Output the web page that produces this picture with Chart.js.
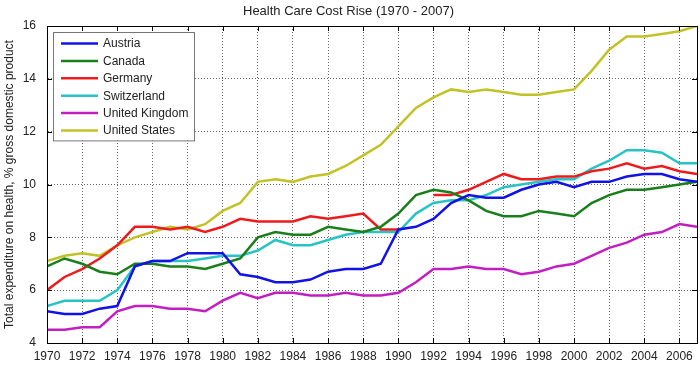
<!DOCTYPE html>
<html lang="en">
<head>
    <meta charset="UTF-8">
    <title>Health Care Cost Rise (1970 - 2007)</title>
    <script src="https://cdn.jsdelivr.net/npm/chart.js"></script>
    <style>
        html, body {
            margin: 0;
            padding: 0;
            background-color: white;
        }

        .chart-container {
            width: 700px;
            height: 366px;
        }
    </style>
</head>
<body>
    <div class="chart-container">
        <canvas id="costChart" width="700" height="366"></canvas>
    </div>

    <script>
        // Data, % of GDP spent on health
        const years = [];
        for (let y = 1970; y <= 2007; y++) years.push(y);

        const austria = [5.2, 5.1, 5.1, 5.3, 5.4, 6.9, 7.1, 7.1, 7.4, 7.4,
                         7.4, 6.6, 6.5, 6.3, 6.3, 6.4, 6.7, 6.8, 6.8, 7.0,
                         8.3, 8.4, 8.7, 9.3, 9.6, 9.5, 9.5, 9.8, 10.0, 10.1,
                         9.9, 10.1, 10.1, 10.3, 10.4, 10.4, 10.2, 10.1];
        const canada = [6.9, 7.2, 7.0, 6.7, 6.6, 7.0, 7.0, 6.9, 6.9, 6.8,
                        7.0, 7.2, 8.0, 8.2, 8.1, 8.1, 8.4, 8.3, 8.2, 8.4,
                        8.9, 9.6, 9.8, 9.7, 9.4, 9.0, 8.8, 8.8, 9.0, 8.9,
                        8.8, 9.3, 9.6, 9.8, 9.8, 9.9, 10.0, 10.1];
        const germany = [6.0, 6.5, 6.8, 7.2, 7.7, 8.4, 8.4, 8.3, 8.4, 8.2,
                         8.4, 8.7, 8.6, 8.6, 8.6, 8.8, 8.7, 8.8, 8.9, 8.3,
                         8.3, null, 9.6, 9.6, 9.8, 10.1, 10.4, 10.2, 10.2, 10.3,
                         10.3, 10.5, 10.6, 10.8, 10.6, 10.7, 10.5, 10.4];
        const switzerland = [5.4, 5.6, 5.6, 5.6, 6.0, 6.9, 7.1, 7.1, 7.1, 7.2,
                             7.3, 7.3, 7.5, 7.9, 7.7, 7.7, 7.9, 8.1, 8.2, 8.2,
                             8.2, 8.9, 9.3, 9.4, 9.4, 9.6, 9.9, 10.0, 10.1, 10.2,
                             10.2, 10.6, 10.9, 11.3, 11.3, 11.2, 10.8, 10.8];
        const unitedKingdom = [4.5, 4.5, 4.6, 4.6, 5.2, 5.4, 5.4, 5.3, 5.3, 5.2,
                               5.6, 5.9, 5.7, 5.9, 5.9, 5.8, 5.8, 5.9, 5.8, 5.8,
                               5.9, 6.3, 6.8, 6.8, 6.9, 6.8, 6.8, 6.6, 6.7, 6.9,
                               7.0, 7.3, 7.6, 7.8, 8.1, 8.2, 8.5, 8.4];
        const unitedStates = [7.1, 7.3, 7.4, 7.3, 7.7, 8.0, 8.2, 8.4, 8.3, 8.5,
                              9.0, 9.3, 10.1, 10.2, 10.1, 10.3, 10.4, 10.7, 11.1, 11.5,
                              12.2, 12.9, 13.3, 13.6, 13.5, 13.6, 13.5, 13.4, 13.4, 13.5,
                              13.6, 14.3, 15.1, 15.6, 15.6, 15.7, 15.8, 16.0];

        const xTicks = [1970, 1972, 1974, 1976, 1978, 1980, 1982, 1984, 1986, 1988,
                        1990, 1992, 1994, 1996, 1998, 2000, 2002, 2004, 2006];
        const yTicks = [4, 6, 8, 10, 12, 14, 16];

        const FONT = 'Liberation Sans, Arial, sans-serif';

        function series(label, values, color) {
            return {
                label: label,
                data: values.map((v, i) => ({ x: years[i], y: v })),
                borderColor: color,
                backgroundColor: color,
                borderWidth: 2.5,
                pointRadius: 0,
                tension: 0,
                spanGaps: false
            };
        }

        // frame with inward tick marks
        const framePlugin = {
            id: 'frame',
            afterDatasetsDraw(chart) {
                const { ctx, chartArea: a, scales } = chart;
                ctx.save();
                ctx.strokeStyle = '#000';
                ctx.lineWidth = 1;
                ctx.beginPath();
                xTicks.forEach(t => {
                    const px = Math.round(scales.x.getPixelForValue(t)) + 0.5;
                    ctx.moveTo(px, a.bottom); ctx.lineTo(px, a.bottom - 5);
                    ctx.moveTo(px, a.top); ctx.lineTo(px, a.top + 5);
                });
                yTicks.forEach(t => {
                    const py = Math.round(scales.y.getPixelForValue(t)) + 0.5;
                    ctx.moveTo(a.left, py); ctx.lineTo(a.left + 5, py);
                    ctx.moveTo(a.right, py); ctx.lineTo(a.right - 5, py);
                });
                ctx.stroke();
                ctx.strokeRect(Math.round(a.left) + 0.5, Math.round(a.top) + 0.5,
                               Math.round(a.right - a.left), Math.round(a.bottom - a.top));
                ctx.restore();
            }
        };

        // boxed legend in the top-left corner
        const legendPlugin = {
            id: 'boxLegend',
            afterDatasetsDraw(chart) {
                const { ctx, chartArea: a } = chart;
                const sets = chart.data.datasets;
                const x0 = a.left + 6, y0 = a.top + 6;
                const w = 141, rowH = 17.4;
                const h = sets.length * rowH + 4;
                ctx.save();
                ctx.fillStyle = '#fff';
                ctx.fillRect(x0, y0, w, h);
                ctx.strokeStyle = '#777';
                ctx.lineWidth = 1;
                ctx.strokeRect(Math.round(x0) + 0.5, Math.round(y0) + 0.5, w, h);
                ctx.font = '12px ' + FONT;
                ctx.textBaseline = 'middle';
                sets.forEach((ds, i) => {
                    const cy = y0 + 11.5 + i * rowH;
                    ctx.strokeStyle = ds.borderColor;
                    ctx.lineWidth = 2.5;
                    ctx.beginPath();
                    ctx.moveTo(x0 + 8, cy);
                    ctx.lineTo(x0 + 45, cy);
                    ctx.stroke();
                    ctx.fillStyle = '#222';
                    ctx.fillText(ds.label, x0 + 50, cy + 0.5);
                });
                ctx.restore();
            }
        };

        const ctx = document.getElementById('costChart').getContext('2d');
        new Chart(ctx, {
            type: 'line',
            data: {
                datasets: [
                    series('Austria', austria, '#1212e6'),
                    series('Canada', canada, '#1a7f1a'),
                    series('Germany', germany, '#ec1c1c'),
                    series('Switzerland', switzerland, '#28c4c4'),
                    series('United Kingdom', unitedKingdom, '#c21ec2'),
                    series('United States', unitedStates, '#c2c228')
                ]
            },
            options: {
                responsive: false,
                animation: false,
                devicePixelRatio: 1,
                layout: { padding: { left: 0, right: 3, top: 0, bottom: 0 } },
                plugins: {
                    legend: { display: false },
                    tooltip: { enabled: false },
                    title: {
                        display: true,
                        text: 'Health Care Cost Rise (1970 - 2007)',
                        color: '#222',
                        font: { family: FONT, size: 13, weight: 'normal' },
                        padding: { top: 4, bottom: 6.4 }
                    }
                },
                scales: {
                    x: {
                        type: 'linear',
                        min: 1970,
                        max: 2007,
                        afterBuildTicks: s => { s.ticks = xTicks.map(v => ({ value: v })); },
                        afterFit: s => { s.height = 23; },
                        ticks: {
                            autoSkip: false,
                            maxRotation: 0,
                            padding: 6,
                            color: '#222',
                            font: { family: FONT, size: 12 },
                            callback: v => String(v)
                        },
                        grid: { color: '#666', lineWidth: 1, drawTicks: false },
                        border: { display: true, color: '#000', dash: [1, 2] }
                    },
                    y: {
                        min: 4,
                        max: 16,
                        afterBuildTicks: s => { s.ticks = yTicks.map(v => ({ value: v })); },
                        afterFit: s => { s.width = 47; },
                        ticks: {
                            padding: 11,
                            color: '#222',
                            font: { family: FONT, size: 12 }
                        },
                        grid: { color: '#666', lineWidth: 1, drawTicks: false },
                        border: { display: true, color: '#000', dash: [1, 2] },
                        title: {
                            display: true,
                            text: 'Total expenditure on health, % gross domestic product',
                            color: '#222',
                            font: { family: FONT, size: 12 },
                            padding: { top: 2, bottom: 0 }
                        }
                    }
                }
            },
            plugins: [framePlugin, legendPlugin]
        });
    </script>
</body>
</html>
